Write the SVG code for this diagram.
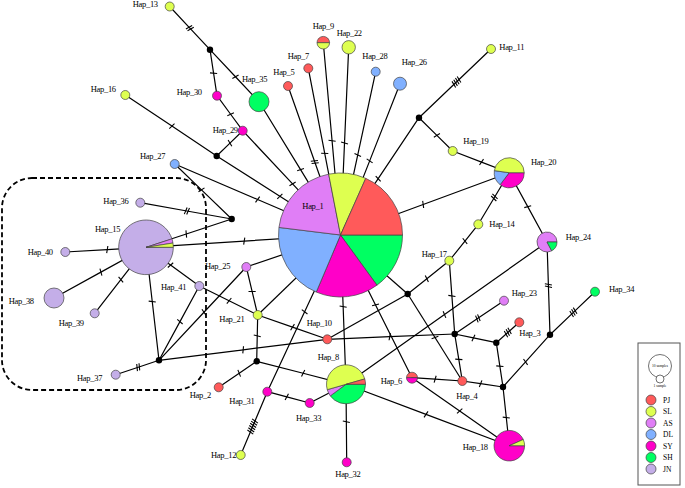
<svg xmlns="http://www.w3.org/2000/svg" width="685" height="488" viewBox="0 0 685 488">
<style>
.c{fill:none;stroke:#000;stroke-width:1.2}
.t1{marker-mid:url(#t1)}.t2{marker-mid:url(#t2)}.t3{marker-mid:url(#t3)}.t4{marker-mid:url(#t4)}.t6{marker-mid:url(#t6)}
.tk{fill:none;stroke:#000;stroke-width:1.1}
.n{stroke:#444;stroke-width:0.7}
.b{fill:#000}
.pj{fill:#ff5a5a}.sl{fill:#deff50}.as{fill:#e07ef6}.dl{fill:#80b0ff}.sy{fill:#ff00c8}.sh{fill:#00ff62}.jn{fill:#c4aee8}
text{font-family:"Liberation Serif","DejaVu Serif",serif;font-size:8.5px;letter-spacing:-0.3px;fill:#000}
.lg{font-size:7.5px;letter-spacing:0}
.tiny{font-size:3.6px;letter-spacing:0}
</style>
<defs>
<marker id="t1" markerUnits="userSpaceOnUse" orient="auto" markerWidth="14" markerHeight="14" overflow="visible"><path class="tk" d="M-0.8,3.5L0.8,-3.5"/></marker>
<marker id="t2" markerUnits="userSpaceOnUse" orient="auto" markerWidth="14" markerHeight="14" overflow="visible"><path class="tk" d="M-2,3.5L-0.4,-3.5M0.4,3.5L2,-3.5"/></marker>
<marker id="t3" markerUnits="userSpaceOnUse" orient="auto" markerWidth="14" markerHeight="14" overflow="visible"><path class="tk" d="M-3.2,3.5L-1.6,-3.5M-0.8,3.5L0.8,-3.5M1.6,3.5L3.2,-3.5"/></marker>
<marker id="t4" markerUnits="userSpaceOnUse" orient="auto" markerWidth="14" markerHeight="14" overflow="visible"><path class="tk" d="M-4.4,3.5L-2.8,-3.5M-2,3.5L-0.4,-3.5M0.4,3.5L2,-3.5M2.8,3.5L4.4,-3.5"/></marker>
<marker id="t6" markerUnits="userSpaceOnUse" orient="auto" markerWidth="20" markerHeight="20" overflow="visible"><path class="tk" d="M-6.8,3.5L-5.2,-3.5M-4.4,3.5L-2.8,-3.5M-2,3.5L-0.4,-3.5M0.4,3.5L2,-3.5M2.8,3.5L4.4,-3.5M5.2,3.5L6.8,-3.5"/></marker>
</defs>
<rect width="685" height="488" fill="#fff"/>
<rect id="jn-box" x="2" y="178" width="204" height="212" rx="30" ry="30" fill="none" stroke="#000" stroke-width="1.8" stroke-dasharray="5 3"/>
<g id="connectors">
<path class="c t2" d="M169.7,6.5L189.85,28.1L210,49.7"/>
<path class="c t1" d="M210,49.7L213.57,73.16L217,95.7"/>
<path class="c t1" d="M210,49.7L235.48,76.74L259,101.7"/>
<path class="c t1" d="M259,101.7L300.57,169.68L340.5,235"/>
<path class="c t1" d="M217,95.7L230.62,114.25L242.7,130.7"/>
<path class="c t1" d="M242.7,130.7L229.96,143.1L216.7,156"/>
<path class="c t1" d="M125.3,95L171.91,126.11L216.7,156"/>
<path class="c t1" d="M216.7,156L279.84,196.29L340.5,235"/>
<path class="c t1" d="M242.7,130.7L292.58,183.89L340.5,235"/>
<path class="c t1" d="M174.7,164L257.6,199.5L340.5,235"/>
<path class="c t1" d="M174.7,164L201.49,189.85L231.7,219"/>
<path class="c t2" d="M140.3,202.7L186.91,211.01L231.7,219"/>
<path class="c t1" d="M146,247.3L186.28,234L231.7,219"/>
<path class="c t1" d="M146,247.3L244.22,241.09L340.5,235"/>
<path class="c t1" d="M65.3,252L107.26,249.56L146,247.3"/>
<path class="c t1" d="M54,298L100.92,272.14L146,247.3"/>
<path class="c t1" d="M94.7,313.3L120.86,279.64L146,247.3"/>
<path class="c t1" d="M199.3,286L170.52,265.1L146,247.3"/>
<path class="c t1" d="M146,247.3L152.24,301.54L159,360.3"/>
<path class="c t1" d="M199.3,286L179.96,321.66L159,360.3"/>
<path class="c t1" d="M159,360.3L203.96,312.25L246.3,267"/>
<path class="c t2" d="M115.7,374.7L138.22,367.21L159,360.3"/>
<path class="c t1" d="M199.3,286L229.08,300.79L257.7,315"/>
<path class="c t1" d="M246.3,267L252.11,291.48L257.7,315"/>
<path class="c" d="M246.3,267L340.5,235"/>
<path class="c" d="M257.7,315L340.5,235"/>
<path class="c t1" d="M159,360.3L243.15,349.8L327.3,339.3"/>
<path class="c t1" d="M257.7,315L257.25,335.84L256.7,361.3"/>
<path class="c t1" d="M257.7,315L292.5,327.15L327.3,339.3"/>
<path class="c t1" d="M256.7,361.3L239.22,373.26L218.7,387.3"/>
<path class="c t1" d="M256.7,361.3L303.14,373.26L346,384.3"/>
<path class="c t1" d="M267.3,391.7L304.63,311.78L340.5,235"/>
<path class="c t1" d="M267.3,391.7L286.8,396.9L309.7,403"/>
<path class="c t6" d="M267.3,391.7L252.67,426.52L240.7,455"/>
<path class="c" d="M309.7,403L346,384.3"/>
<path class="c t1" d="M346,384.3L346.34,421.74L346.7,462.3"/>
<path class="c t1" d="M340.5,235L343.14,306.66L346,384.3"/>
<path class="c" d="M327.3,339.3L407.7,294"/>
<path class="c t1" d="M327.3,339.3L389.73,336.7L454.7,334"/>
<path class="c" d="M340.5,235L407.7,294"/>
<path class="c t1" d="M407.7,294L426.84,278.68L449.3,260.7"/>
<path class="c t1" d="M407.7,294L435,337.5L462.3,381"/>
<path class="c t1" d="M449.3,260.7L464.96,241.04L478.3,224.3"/>
<path class="c t2" d="M478.3,224.3L494.37,197.47L509.2,172.7"/>
<path class="c t1" d="M509.2,172.7L423.16,204.47L340.5,235"/>
<path class="c t1" d="M509.2,172.7L527.72,206.66L547,242"/>
<path class="c t1" d="M452.7,151L481.52,162.07L509.2,172.7"/>
<path class="c t1" d="M419,117.7L436.86,135.35L452.7,151"/>
<path class="c t4" d="M419,117.7L456.44,81.98L491,49"/>
<path class="c t1" d="M419,117.7L378.18,178.7L340.5,235"/>
<path class="c t1" d="M449.3,260.7L451.89,295.88L454.7,334"/>
<path class="c t1" d="M346,384.3L444.49,314.57L547,242"/>
<path class="c t2" d="M547,242L548.41,285.57L550,334.7"/>
<path class="c t3" d="M550,334.7L573.4,312.34L595,291.7"/>
<path class="c t2" d="M454.7,334L477.87,318.35L504,300.7"/>
<path class="c t1" d="M454.7,334L473.42,337.92L496.3,342.7"/>
<path class="c t1" d="M454.7,334L458.8,359.38L462.3,381"/>
<path class="c t3" d="M496.3,342.7L507.8,332.5L519.3,322.3"/>
<path class="c t1" d="M496.3,342.7L499.85,366.18L503,387"/>
<path class="c t1" d="M462.3,381L480.62,383.7L503,387"/>
<path class="c t1" d="M412,377.7L435.14,379.22L462.3,381"/>
<path class="c t1" d="M503,387L506.28,417.52L509.3,445.7"/>
<path class="c t1" d="M503,387L525.56,361.9L550,334.7"/>
<path class="c t1" d="M412,377.7L459.68,411.02L509.3,445.7"/>
<path class="c t1" d="M346,384.3L426.02,414.39L509.3,445.7"/>
<path class="c t1" d="M340.5,235L375.54,304.92L412,377.7"/>
<path class="c t1" d="M323.3,42.7L332.07,140.77L340.5,235"/>
<path class="c t1" d="M348.7,47.3L344.52,143.03L340.5,235"/>
<path class="c t1" d="M308.3,68.3L324.72,153.32L340.5,235"/>
<path class="c t2" d="M288,86L314.78,161.99L340.5,235"/>
<path class="c t1" d="M375.7,71.7L357.75,154.98L340.5,235"/>
<path class="c t1" d="M400,83.7L369.66,160.86L340.5,235"/>
</g>
<g id="median-vectors">
<circle class="b" cx="210" cy="49.7" r="3.2"/>
<circle class="b" cx="216.7" cy="156" r="3.2"/>
<circle class="b" cx="231.7" cy="219" r="3.2"/>
<circle class="b" cx="159" cy="360.3" r="3.2"/>
<circle class="b" cx="256.7" cy="361.3" r="3.2"/>
<circle class="b" cx="407.7" cy="294" r="3.2"/>
<circle class="b" cx="419" cy="117.7" r="3.2"/>
<circle class="b" cx="454.7" cy="334" r="3.2"/>
<circle class="b" cx="496.3" cy="342.7" r="3.2"/>
<circle class="b" cx="503" cy="387" r="3.2"/>
<circle class="b" cx="550" cy="334.7" r="3.2"/>
</g>
<g id="hap1">
<path class="n sh" d="M340.5,235L402.5,235A62,62 0 0 1 376.94,285.16Z"/>
<path class="n sy" d="M340.5,235L376.94,285.16A62,62 0 0 1 316.28,292.07Z"/>
<path class="n dl" d="M340.5,235L316.28,292.07A62,62 0 0 1 278.96,227.44Z"/>
<path class="n as" d="M340.5,235L278.96,227.44A62,62 0 0 1 328.67,174.14Z"/>
<path class="n sl" d="M340.5,235L328.67,174.14A62,62 0 0 1 365.72,178.36Z"/>
<path class="n pj" d="M340.5,235L365.72,178.36A62,62 0 0 1 402.5,235Z"/>
<text x="302.3" y="209">Hap_1</text>
</g>
<g id="hap15">
<path class="n jn" d="M146,247.3L173.3,247.3A27.3,27.3 0 1 1 171.96,238.86Z"/>
<path class="n as" d="M146,247.3L171.96,238.86A27.3,27.3 0 0 1 172.96,243.03Z"/>
<path class="n sl" d="M146,247.3L172.96,243.03A27.3,27.3 0 0 1 173.3,247.3Z"/>
<text x="95" y="232.3">Hap_15</text>
</g>
<g id="hap8">
<path class="n sh" d="M346,384.3L365.5,384.3A19.5,19.5 0 0 1 330.32,395.9Z"/>
<path class="n as" d="M346,384.3L330.32,395.9A19.5,19.5 0 0 1 327.25,389.67Z"/>
<path class="n sl" d="M346,384.3L327.25,389.67A19.5,19.5 0 0 1 364.75,378.93Z"/>
<path class="n pj" d="M346,384.3L364.75,378.93A19.5,19.5 0 0 1 365.5,384.3Z"/>
<text x="317.7" y="360.3">Hap_8</text>
</g>
<g id="hap20">
<path class="n sy" d="M509.2,172.7L524.2,172.7A15,15 0 0 1 500.17,184.68Z"/>
<path class="n dl" d="M509.2,172.7L500.17,184.68A15,15 0 0 1 494.35,170.61Z"/>
<path class="n sl" d="M509.2,172.7L494.35,170.61A15,15 0 0 1 524.2,172.7Z"/>
<text x="531" y="165.3">Hap_20</text>
</g>
<g id="hap24">
<path class="n as" d="M547,242L551.7,250.83A10,10 0 1 1 557,242Z"/>
<path class="n sh" d="M547,242L557,242A10,10 0 0 1 551.7,250.83Z"/>
<text x="565.7" y="240">Hap_24</text>
</g>
<g id="hap18">
<path class="n sy" d="M509.3,445.7L524.6,445.7A15.3,15.3 0 1 1 523.28,439.48Z"/>
<path class="n sl" d="M509.3,445.7L523.28,439.48A15.3,15.3 0 0 1 524.6,445.7Z"/>
<text x="462.7" y="449.7">Hap_18</text>
</g>
<g id="hap6">
<path class="n pj" d="M406.5,377.7A5.5,5.5 0 0 1 417.5,377.7Z"/>
<path class="n sy" d="M417.5,377.7A5.5,5.5 0 0 1 406.5,377.7Z"/>
<text x="380.7" y="383.7">Hap_6</text>
</g>
<g id="hap9">
<path class="n pj" d="M317,42.7A6.3,6.3 0 0 1 329.6,42.7Z"/>
<path class="n sl" d="M329.6,42.7A6.3,6.3 0 0 1 317,42.7Z"/>
<text x="312.7" y="29">Hap_9</text>
</g>
<g id="hap13"><circle class="n sl" cx="169.7" cy="6.5" r="4.5"/><text x="132.7" y="7">Hap_13</text></g>
<g id="hap30"><circle class="n sy" cx="217" cy="95.7" r="4.5"/><text x="176.7" y="95.3">Hap_30</text></g>
<g id="hap35"><circle class="n sh" cx="259" cy="101.7" r="10"/><text x="242" y="81.7">Hap_35</text></g>
<g id="hap29"><circle class="n sy" cx="242.7" cy="130.7" r="4.5"/><text x="212.7" y="133">Hap_29</text></g>
<g id="hap16"><circle class="n sl" cx="125.3" cy="95" r="4.5"/><text x="90.7" y="92.3">Hap_16</text></g>
<g id="hap27"><circle class="n dl" cx="174.7" cy="164" r="4.5"/><text x="140" y="159">Hap_27</text></g>
<g id="hap36"><circle class="n jn" cx="140.3" cy="202.7" r="4.5"/><text x="103.3" y="204.3">Hap_36</text></g>
<g id="hap40"><circle class="n jn" cx="65.3" cy="252" r="4.5"/><text x="27.7" y="255.3">Hap_40</text></g>
<g id="hap38"><circle class="n jn" cx="54" cy="298" r="10"/><text x="8.7" y="304">Hap_38</text></g>
<g id="hap39"><circle class="n jn" cx="94.7" cy="313.3" r="4.5"/><text x="58.7" y="325.7">Hap_39</text></g>
<g id="hap41"><circle class="n jn" cx="199.3" cy="286" r="4.5"/><text x="161" y="290.3">Hap_41</text></g>
<g id="hap37"><circle class="n jn" cx="115.7" cy="374.7" r="4.5"/><text x="77" y="381">Hap_37</text></g>
<g id="hap25"><circle class="n as" cx="246.3" cy="267" r="4.5"/><text x="205" y="269.3">Hap_25</text></g>
<g id="hap21"><circle class="n sl" cx="257.7" cy="315" r="4.5"/><text x="219.3" y="321.7">Hap_21</text></g>
<g id="hap2"><circle class="n pj" cx="218.7" cy="387.3" r="4.5"/><text x="189.7" y="398">Hap_2</text></g>
<g id="hap31"><circle class="n sy" cx="267.3" cy="391.7" r="4.5"/><text x="229.3" y="404">Hap_31</text></g>
<g id="hap33"><circle class="n sy" cx="309.7" cy="403" r="4.5"/><text x="296" y="421.3">Hap_33</text></g>
<g id="hap12"><circle class="n sl" cx="240.7" cy="455" r="4.5"/><text x="211" y="458.3">Hap_12</text></g>
<g id="hap32"><circle class="n sy" cx="346.7" cy="462.3" r="4.5"/><text x="335.3" y="476.7">Hap_32</text></g>
<g id="hap10"><circle class="n pj" cx="327.3" cy="339.3" r="4.5"/><text x="306.7" y="326.3">Hap_10</text></g>
<g id="hap17"><circle class="n sl" cx="449.3" cy="260.7" r="4.5"/><text x="421.7" y="257.3">Hap_17</text></g>
<g id="hap14"><circle class="n sl" cx="478.3" cy="224.3" r="4.5"/><text x="489.3" y="227">Hap_14</text></g>
<g id="hap19"><circle class="n sl" cx="452.7" cy="151" r="4.5"/><text x="463.3" y="144">Hap_19</text></g>
<g id="hap11"><circle class="n sl" cx="491" cy="49" r="4.5"/><text x="499.3" y="50.3">Hap_11</text></g>
<g id="hap23"><circle class="n as" cx="504" cy="300.7" r="4.5"/><text x="511.7" y="296.3">Hap_23</text></g>
<g id="hap3"><circle class="n pj" cx="519.3" cy="322.3" r="4.5"/><text x="519.3" y="336.3">Hap_3</text></g>
<g id="hap4"><circle class="n pj" cx="462.3" cy="381" r="4.5"/><text x="456.3" y="399">Hap_4</text></g>
<g id="hap34"><circle class="n sh" cx="595" cy="291.7" r="4.5"/><text x="609" y="291.7">Hap_34</text></g>
<g id="hap22"><circle class="n sl" cx="348.7" cy="47.3" r="6.7"/><text x="336.7" y="35.7">Hap_22</text></g>
<g id="hap7"><circle class="n pj" cx="308.3" cy="68.3" r="4.5"/><text x="287.7" y="58.7">Hap_7</text></g>
<g id="hap5"><circle class="n pj" cx="288" cy="86" r="4.5"/><text x="273.3" y="74.7">Hap_5</text></g>
<g id="hap28"><circle class="n dl" cx="375.7" cy="71.7" r="4.5"/><text x="362.3" y="59">Hap_28</text></g>
<g id="hap26"><circle class="n dl" cx="400" cy="83.7" r="6.5"/><text x="401.7" y="65.3">Hap_26</text></g>
<g id="legend">
<rect x="638" y="343" width="42" height="142" fill="#fff" stroke="#555" stroke-width="1"/>
<circle cx="660" cy="366" r="11.5" fill="#fff" stroke="#333" stroke-width="0.7"/>
<text class="tiny" x="660" y="367.3" text-anchor="middle">10 samples</text>
<circle cx="660" cy="379" r="4" fill="#fff" stroke="#333" stroke-width="0.7"/>
<text class="tiny" x="660" y="387" text-anchor="middle">1 sample</text>
<circle class="n pj" cx="651" cy="400" r="5"/><text class="lg" x="663" y="402.5">PJ</text>
<circle class="n sl" cx="651" cy="411.5" r="5"/><text class="lg" x="663" y="414">SL</text>
<circle class="n as" cx="651" cy="423" r="5"/><text class="lg" x="663" y="425.5">AS</text>
<circle class="n dl" cx="651" cy="434.5" r="5"/><text class="lg" x="663" y="437">DL</text>
<circle class="n sy" cx="651" cy="446" r="5"/><text class="lg" x="663" y="448.5">SY</text>
<circle class="n sh" cx="651" cy="457.5" r="5"/><text class="lg" x="663" y="460">SH</text>
<circle class="n jn" cx="651" cy="469" r="5"/><text class="lg" x="663" y="471.5">JN</text>
</g>
</svg>
